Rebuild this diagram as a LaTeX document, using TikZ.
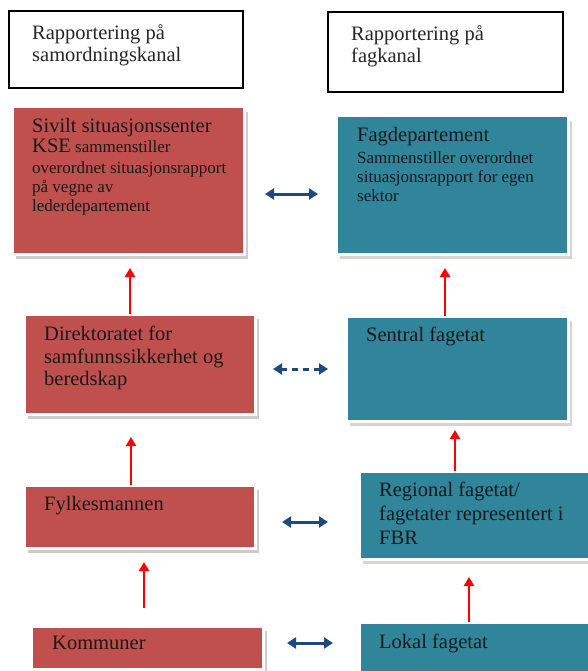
\documentclass[tikz,border=0pt]{standalone}
\usepackage{fontspec}
\setmainfont{Liberation Serif}
\usepackage{xcolor}
\usepackage{tikz}
\usetikzlibrary{arrows.meta}
\usetikzlibrary{shadows}
\definecolor{samred}{RGB}{192,80,77}
\definecolor{fagblue}{RGB}{49,133,155}
\definecolor{pilblue}{RGB}{31,73,125}
\newcommand{\storfont}{\fontsize{20.5}{22.5}\selectfont}
\newcommand{\litenfont}{\fontsize{17}{19}\selectfont}
\tikzset{
  headbox/.style={draw=black, line width=1.5pt, fill=white, anchor=north west, inner sep=0pt, outer sep=0pt},
  redbox/.style={fill=samred, draw=white, line width=3pt, anchor=north west, inner sep=0pt, outer sep=0pt,
    drop shadow={shadow xshift=4pt, shadow yshift=-5pt, fill=black!40}},
  bluebox/.style={fill=fagblue, draw=white, line width=3pt, anchor=north west, inner sep=0pt, outer sep=0pt,
    drop shadow={shadow xshift=4pt, shadow yshift=-5pt, fill=samred!40!black!40}},
  boxtext/.style={anchor=north west, align=left, inner sep=0pt, font=\storfont, text=black!90},
  uppil/.style={red, line width=2.2pt, ->, >={Triangle[length=9pt, width=10pt]}},
  sidepil/.style={pilblue, line width=3pt, <->, >={Triangle[length=9pt, width=11pt]}}
}

\begin{document}
\begin{tikzpicture}[x=1pt, y=-1pt]
\useasboundingbox (0,0) rectangle (588,671);
% overskrifter
\node[headbox, minimum width=234pt, minimum height=77pt] (h1) at (9,11) {};
\node[headbox, minimum width=235pt, minimum height=80pt] (h2) at (328,12) {};
\node[boxtext, text=black!85] (h1t) at ([shift={(23,13)}]h1.north west) {Rapportering på\\samordningskanal};
\node[boxtext, text=black!85] (h2t) at ([shift={(23,13)}]h2.north west) {Rapportering på\\fagkanal};
% samordningskanal
\node[redbox, minimum width=232pt, minimum height=147pt] (r1) at (12,107) {};
\node[redbox, minimum width=231pt, minimum height=100pt] (r2) at (24,314) {};
\node[redbox, minimum width=231pt, minimum height=63pt] (r3) at (24,485) {};
\node[redbox, minimum width=232pt, minimum height=43pt] (r4) at (31,626) {};
% fagkanal
\node[bluebox, minimum width=232pt, minimum height=138pt] (b1) at (336,116) {};
\node[bluebox, minimum width=222pt, minimum height=105pt] (b2) at (346,316) {};
\node[bluebox, minimum width=232pt, minimum height=88pt] (b3) at (359,471) {};
\node[bluebox, minimum width=232pt, minimum height=50pt] (b4) at (359,622) {};
% tekster
\node[boxtext, font=\litenfont] (r1t) at ([shift={(20,11)}]r1.north west)
  {{\storfont Sivilt situasjonssenter}\\[1.5pt] {\storfont KSE} sammenstiller\\[2pt]
   overordnet situasjonsrapport\\ på vegne av\\ lederdepartement};
\node[boxtext] (r2t) at ([shift={(20,12)}]r2.north west) {Direktoratet for\\samfunnssikkerhet og\\beredskap};
\node[boxtext] (r3t) at ([shift={(20,11)}]r3.north west) {Fylkesmannen};
\node[boxtext] (r4t) at ([shift={(21,10)}]r4.north west) {Kommuner};
\node[boxtext, font=\litenfont] (b1t) at ([shift={(21,11)}]b1.north west)
  {{\storfont Fagdepartement}\\[3pt] Sammenstiller overordnet\\ situasjonsrapport for egen\\ sektor};
\node[boxtext] (b2t) at ([shift={(20,11)}]b2.north west) {Sentral fagetat};
\node[boxtext] (b3t) at ([shift={(20,11)}]b3.north west) {Regional fagetat/\\[1.5pt]fagetater representert i\\[1.5pt]FBR};
\node[boxtext] (b4t) at ([shift={(20,12)}]b4.north west) {Lokal fagetat};
% rapportering oppover
\draw[uppil, shorten >=14pt] ([xshift=-9.5pt]r2.north) -- ([xshift=-9.5pt]r2.north |- r1.south);
\draw[uppil, shorten >=14pt] ([xshift=-12pt]b2.north) -- ([xshift=-12pt]b2.north |- b1.south);
\draw[uppil, shorten >=23pt] ([xshift=-8.5pt]r3.north) -- ([xshift=-8.5pt]r3.north |- r2.south);
\draw[uppil, shorten >=9pt] ([xshift=-20pt]b3.north) -- ([xshift=-20pt]b3.north |- b2.south);
\draw[uppil, shorten <=18pt, shorten >=14pt] ([xshift=-3pt]r4.north) -- ([xshift=-3pt]r4.north |- r3.south);
\draw[uppil, shorten >=18pt] ([xshift=-6pt]b4.north) -- ([xshift=-6pt]b4.north |- b3.south);
% samarbeid mellom kanalene
\draw[sidepil, shorten <=21pt, shorten >=18pt] ([yshift=-13.5pt]r1.east) -- ([yshift=-13.5pt]r1.east -| b1.west);
\draw[sidepil, dash pattern=on 6pt off 5pt, shorten <=18pt, shorten >=18pt] ([yshift=-5pt]r2.east) -- ([yshift=-5pt]r2.east -| b2.west);
\draw[sidepil, shorten <=27pt, shorten >=31pt] ([yshift=-5.5pt]r3.east) -- ([yshift=-5.5pt]r3.east -| b3.west);
\draw[sidepil, shorten <=24pt, shorten >=26pt] ([yshift=4.5pt]r4.east) -- ([yshift=4.5pt]r4.east -| b4.west);
\end{tikzpicture}
\end{document}
